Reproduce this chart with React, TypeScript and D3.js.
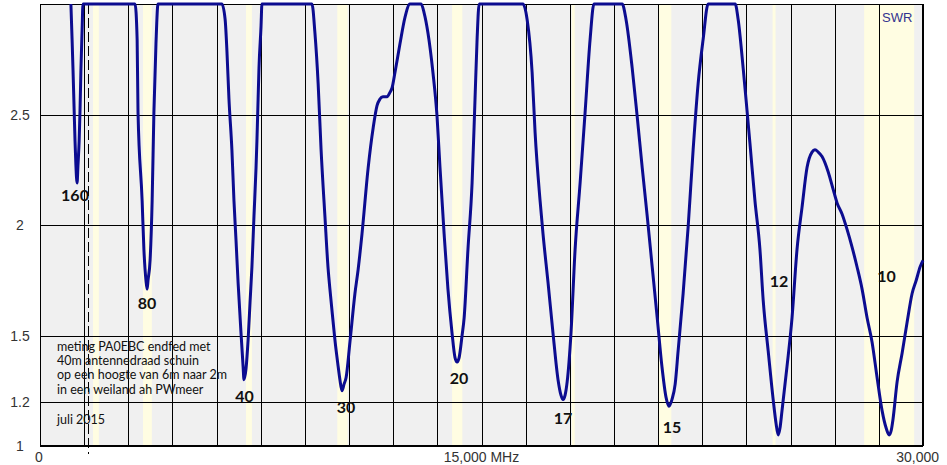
import React from "react";
import * as d3 from "d3";

// Frequency (MHz) and measured SWR
const freqMHz = [
  1.05, 1.09, 1.12, 1.16, 1.19, 1.22, 1.26, 1.29, 1.33, 1.36, 1.39, 1.43, 1.46,
  2.04, 2.72,
  3.23, 3.30, 3.33, 3.47, 3.53, 3.60, 3.64, 3.67, 3.74, 3.81, 3.87, 3.94, 4.01,
  5.10,
  6.18, 6.29, 6.35, 6.42, 6.52, 6.59, 6.66, 6.73, 6.83, 6.90, 6.93, 7.00, 7.07, 7.14, 7.20, 7.27, 7.34, 7.37, 7.41, 7.44, 7.51, 7.54,
  8.49,
  9.24, 9.34, 9.45, 9.55, 9.68, 9.79, 9.85, 9.96, 10.02, 10.13, 10.19, 10.26, 10.33, 10.40, 10.53, 10.70, 10.81, 10.94, 11.15, 11.32, 11.45, 11.55, 11.65, 11.79, 11.89, 11.96, 12.06, 12.23, 12.40, 12.57,
  12.84,
  12.95, 13.05, 13.18, 13.35, 13.49, 13.59, 13.73, 13.86, 14.00, 14.10, 14.17, 14.24, 14.34, 14.41, 14.54, 14.68, 14.78, 14.85, 14.92,
  15.63,
  16.41, 16.55, 16.72, 16.82, 16.99, 17.09, 17.26, 17.43, 17.60, 17.70, 17.77, 17.84, 17.91, 18.04, 18.18, 18.35, 18.52, 18.69, 18.82,
  19.37,
  19.78, 19.91, 20.12, 20.29, 20.46, 20.63, 20.80, 20.97, 21.13, 21.27, 21.37, 21.47, 21.58, 21.68, 21.85, 22.02, 22.19, 22.36, 22.53, 22.70,
  23.11,
  23.62, 23.72, 23.89, 24.02, 24.12, 24.29, 24.46, 24.57, 24.74, 24.91, 25.01, 25.08, 25.14, 25.21, 25.38, 25.55, 25.72, 25.89, 26.06, 26.23, 26.33, 26.44, 26.57, 26.78, 26.95, 27.08, 27.25, 27.42, 27.59, 27.76, 27.93, 28.10, 28.27, 28.44, 28.61, 28.75, 28.85, 28.92, 28.98, 29.12, 29.29, 29.46, 29.63, 29.77, 29.90, 30.00,
];

const swr = [
  3.00, 2.84, 2.71, 2.52, 2.38, 2.27, 2.19, 2.27, 2.38, 2.52, 2.70, 2.88, 3.00,
  3.00, 3.00,
  3.00, 2.84, 2.51, 2.11, 1.89, 1.75, 1.71, 1.75, 1.84, 2.11, 2.51, 2.82, 3.00,
  3.00,
  3.00, 2.93, 2.79, 2.57, 2.34, 2.11, 1.93, 1.74, 1.51, 1.36, 1.30, 1.35, 1.48, 1.66, 1.81, 2.04, 2.26, 2.38, 2.57, 2.71, 2.90, 3.00,
  3.00,
  3.00, 2.87, 2.64, 2.34, 2.04, 1.80, 1.71, 1.56, 1.48, 1.36, 1.30, 1.25, 1.28, 1.31, 1.47, 1.69, 1.80, 1.96, 2.26, 2.44, 2.54, 2.57, 2.58, 2.58, 2.60, 2.62, 2.69, 2.82, 2.94, 3.00,
  3.00,
  3.00, 2.96, 2.87, 2.69, 2.49, 2.26, 1.96, 1.71, 1.51, 1.40, 1.38, 1.40, 1.50, 1.58, 1.89, 2.19, 2.57, 2.84, 3.00,
  3.00,
  3.00, 2.93, 2.69, 2.42, 2.11, 1.96, 1.74, 1.51, 1.30, 1.23, 1.21, 1.23, 1.29, 1.51, 1.89, 2.19, 2.51, 2.84, 3.00,
  3.00,
  3.00, 2.93, 2.71, 2.49, 2.26, 2.04, 1.81, 1.58, 1.36, 1.22, 1.18, 1.21, 1.28, 1.43, 1.69, 1.99, 2.34, 2.64, 2.84, 3.00,
  3.00,
  3.00, 2.93, 2.71, 2.52, 2.37, 2.11, 1.89, 1.66, 1.43, 1.21, 1.10, 1.05, 1.08, 1.16, 1.36, 1.58, 1.89, 2.08, 2.26, 2.33, 2.34, 2.33, 2.31, 2.24, 2.16, 2.10, 2.05, 1.98, 1.90, 1.81, 1.71, 1.58, 1.47, 1.31, 1.16, 1.08, 1.05, 1.07, 1.12, 1.29, 1.42, 1.56, 1.69, 1.75, 1.81, 1.84,
];

// Amateur band segments (MHz) shaded in pale yellow
const bandStart = [1.8, 3.5, 7.0, 10.1, 14.0, 18.068, 21.0, 24.89, 28.0];
const bandEnd = [2.0, 3.8, 7.2, 10.45, 14.35, 18.168, 21.45, 24.99, 29.7];

// Band labels: name, frequency (MHz), SWR position of the label baseline
const bandLabels = ["160", "80", "40", "30", "20", "17", "15", "12", "10"];
const bandLabelFreq = [1.19, 3.64, 6.95, 10.4, 14.24, 17.77, 21.47, 25.11, 28.76];
const bandLabelSwr = [2.11, 1.62, 1.20, 1.15, 1.28, 1.10, 1.06, 1.72, 1.74];

const yTicks = [1, 1.2, 1.5, 2, 2.5];
const yTickLabels = ["1", "1.2", "1.5", "2", "2.5"];
const xGridStep = 1.5;
const markerFreq = 1.64;

const noteLines = [
  "meting PA0EBC endfed met",
  "40m antennedraad schuin",
  "op een hoogte van 6m naar 2m",
  "in een weiland ah PWmeer",
];
const noteDate = "juli 2015";

const W = 947;
const H = 465;
const left = 40;
const right = 923;
const top = 4;
const bottom = 446;

export default function App() {
  const x = d3.scaleLinear().domain([0, 30]).range([left, right]);
  const y = d3.scaleLinear().domain([1, 3]).range([bottom, top]).clamp(true);

  const pts = freqMHz.map((f, i) => [f, swr[i]] as [number, number]);
  const line = d3
    .line<[number, number]>()
    .x((d) => x(d[0]))
    .y((d) => y(d[1]))
    .curve(d3.curveMonotoneX);

  const gridX = d3.range(0, 30 + 0.001, xGridStep);
  const crisp = (v: number) => Math.round(v) + 0.5;

  return (
    <svg
      width={W}
      height={H}
      style={{ position: "absolute", left: 0, top: 0, background: "#fff" }}
    >
      <rect x={left} y={top} width={right - left} height={bottom - top} fill="#f0f0f0" />
      {bandStart.map((b, i) => (
        <rect
          key={"b" + i}
          x={x(b)}
          y={top}
          width={Math.max(2, x(bandEnd[i]) - x(b))}
          height={bottom - top}
          fill="#fffde2"
        />
      ))}
      {gridX.map((g, i) => (
        <line
          key={"gx" + i}
          x1={crisp(x(g))}
          x2={crisp(x(g))}
          y1={top}
          y2={bottom}
          stroke="#000"
          strokeWidth={1}
        />
      ))}
      {yTicks.map((t, i) => (
        <line
          key={"gy" + i}
          x1={left}
          x2={right}
          y1={crisp(y(t))}
          y2={crisp(y(t))}
          stroke="#000"
          strokeWidth={1}
        />
      ))}
      <line
        x1={crisp(x(markerFreq))}
        x2={crisp(x(markerFreq))}
        y1={top}
        y2={bottom + 8}
        stroke="#000"
        strokeWidth={1}
        strokeDasharray="10,4"
      />
      <rect
        x={left + 0.5}
        y={top + 0.5}
        width={right - left - 1}
        height={bottom - top - 1}
        fill="none"
        stroke="#000"
        strokeWidth={1}
      />
      <path d={line(pts) || ""} fill="none" stroke="#0c0c90" strokeWidth={3} strokeLinejoin="round" />

      {yTicks.map((t, i) => (
        <text
          key={"yl" + i}
          x={20}
          y={y(t) + 5}
          textAnchor="middle"
          fontFamily="Liberation Sans, Arial, sans-serif"
          fontSize={14}
          fill="#333"
        >
          {yTickLabels[i]}
        </text>
      ))}
      <text x={39} y={462} textAnchor="middle" fontFamily="Liberation Sans, Arial, sans-serif" fontSize={14} fill="#333">
        0
      </text>
      <text x={x(15)} y={462} textAnchor="middle" fontFamily="Liberation Sans, Arial, sans-serif" fontSize={14} fill="#333">
        15,000 MHz
      </text>
      <text x={939} y={462} textAnchor="end" fontFamily="Liberation Sans, Arial, sans-serif" fontSize={14} fill="#333">
        30,000
      </text>
      <text x={882} y={22} fontFamily="Liberation Sans, Arial, sans-serif" fontSize={13} fill="#33338f">
        SWR
      </text>

      {bandLabels.map((l, i) => (
        <text
          key={"bl" + i}
          x={x(bandLabelFreq[i])}
          y={y(bandLabelSwr[i])}
          textAnchor="middle"
          fontFamily="Lato, sans-serif"
          fontWeight={700}
          fontSize={16}
          fill="#111"
        >
          {l}
        </text>
      ))}

      {noteLines.map((t, i) => (
        <text key={"n" + i} x={57} y={351 + i * 14.2} fontFamily="Lato, sans-serif" fontSize={12.5} fill="#111">
          {t}
        </text>
      ))}
      <text x={57} y={424} fontFamily="Lato, sans-serif" fontSize={12.5} fill="#111">
        {noteDate}
      </text>
    </svg>
  );
}
